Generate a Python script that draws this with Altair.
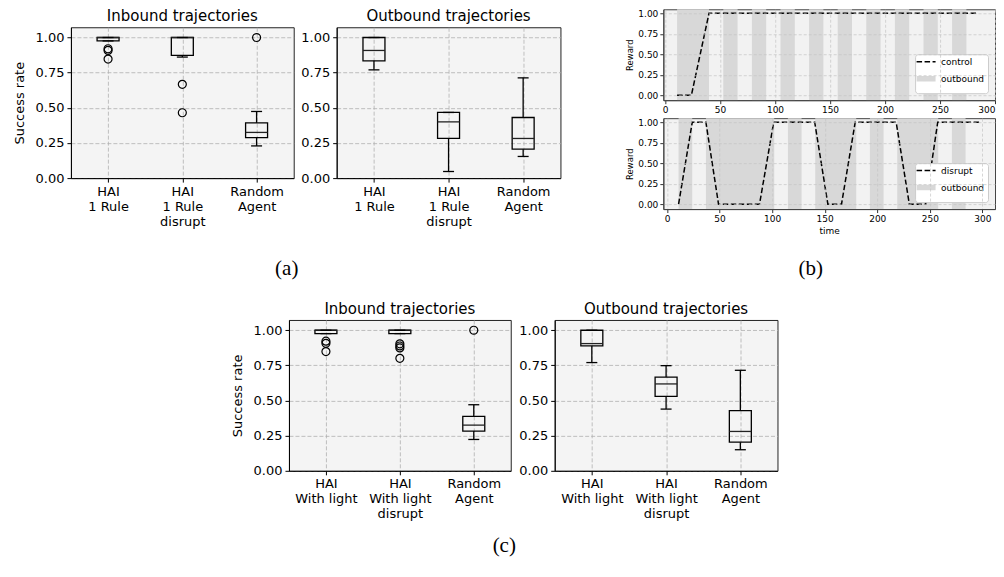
import altair as alt
import pandas as pd

FONT = "DejaVu Sans"
SERIF = "Liberation Serif"

# ---------------- box-plot statistics ----------------
cats_a = ["HAI|1 Rule", "HAI|1 Rule|disrupt", "Random|Agent"]
cats_c = ["HAI|With light", "HAI|With light|disrupt", "Random|Agent"]
panel_titles = ["Inbound trajectories", "Outbound trajectories"]

# (a) inbound
a_in_q1 = [0.976, 0.873, 0.288]
a_in_med = [1.0, 1.0, 0.325]
a_in_q3 = [1.0, 1.0, 0.393]
a_in_lo = [0.976, 0.861, 0.229]
a_in_hi = [1.0, 1.0, 0.474]
a_in_out_idx = [0, 0, 0, 1, 1, 2]
a_in_out_val = [0.920, 0.908, 0.847, 0.667, 0.465, 1.0]

# (a) outbound
a_out_q1 = [0.834, 0.282, 0.206]
a_out_med = [0.908, 0.400, 0.282]
a_out_q3 = [1.0, 0.467, 0.431]
a_out_lo = [0.770, 0.047, 0.154]
a_out_hi = [1.0, 0.467, 0.713]
a_out_out_idx = []
a_out_out_val = []

# (c) inbound
c_in_q1 = [0.976, 0.976, 0.283]
c_in_med = [1.0, 1.0, 0.325]
c_in_q3 = [1.0, 1.0, 0.387]
c_in_lo = [0.976, 0.976, 0.223]
c_in_hi = [1.0, 1.0, 0.470]
c_in_out_idx = [0, 0, 0, 1, 1, 1, 1, 2]
c_in_out_val = [0.922, 0.907, 0.848, 0.903, 0.888, 0.874, 0.800, 1.0]

# (c) outbound
c_out_q1 = [0.888, 0.530, 0.204]
c_out_med = [0.905, 0.618, 0.280]
c_out_q3 = [1.0, 0.667, 0.428]
c_out_lo = [0.770, 0.439, 0.150]
c_out_hi = [1.0, 0.748, 0.715]
c_out_out_idx = []
c_out_out_val = []

# ---------------- reward traces (b) ----------------
top_band_start = [11, 53, 79, 105, 131, 157, 183, 209, 235, 261]
top_band_end = [40, 66, 92, 118, 144, 170, 196, 222, 248, 274]
top_time = [11, 24, 40, 285]
top_reward = [0, 0, 1, 1]

bot_band_start = [11, 37, 115, 141, 193, 219, 271]
bot_band_end = [24, 102, 128, 180, 206, 258, 284]
bot_time = [11, 24, 37, 49, 88, 101.5, 140.5, 153, 166, 179, 218, 230.5, 246, 257.5, 298.5]
bot_reward = [0, 1, 1, 0, 0, 1, 1, 0, 0, 1, 1, 0, 0, 1, 1]

y_ticks = [0, 0.25, 0.5, 0.75, 1.0]
time_ticks = [0, 50, 100, 150, 200, 250, 300]


def title_chart(text, w):
    return alt.Chart(pd.DataFrame({"t": [text]})).mark_text(
        font=FONT, fontSize=15, color="black", baseline="middle", align="center"
    ).encode(
        x=alt.X("t:N", axis=None, scale=alt.Scale(type="point", padding=0.5)),
        text="t:N",
    ).properties(width=w, height=14, view=alt.ViewBackground(stroke="transparent", fill="transparent"))


def box_panel(cats, q1, med, q3, lo, hi, oidx, oval, title, ytitle, w, h):
    df = pd.DataFrame({"cat": cats, "q1": q1, "med": med, "q3": q3, "lo": lo, "hi": hi})
    dfo = pd.DataFrame({"cat": [cats[i] for i in oidx], "v": oval})
    xenc = alt.X(
        "cat:N",
        sort=cats,
        scale=alt.Scale(type="point", padding=0.5, domain=cats),
        axis=alt.Axis(
            title=None, labelExpr="split(datum.value, '|')", labelAngle=0,
            labelFontSize=13, labelFont=FONT, labelColor="black", labelLineHeight=15,
            labelPadding=3, tickSize=4, tickColor="black", domainColor="black",
            grid=True, gridDash=[4, 2], gridColor="#b0b0b0", gridWidth=0.8,
        ),
    )
    yscale = alt.Scale(domain=[0, 1.073], nice=False, zero=False)
    yaxis = alt.Axis(
        title=ytitle, values=y_ticks, format=".2f", labelFontSize=13, labelFont=FONT,
        labelColor="black", labelPadding=3, tickSize=4, tickColor="black",
        domainColor="black", titleFontSize=13, titleFont=FONT, titleFontWeight="normal",
        titleColor="black", titlePadding=9, grid=True, gridDash=[4, 2],
        gridColor="#b0b0b0", gridWidth=0.8,
    )

    def Y(f):
        return alt.Y(f, scale=yscale, axis=yaxis)

    base = alt.Chart(df)
    wl = base.mark_rule(color="black", strokeWidth=1.3).encode(x=xenc, y=Y("lo:Q"), y2="q1:Q")
    wh = base.mark_rule(color="black", strokeWidth=1.3).encode(x=xenc, y=Y("q3:Q"), y2="hi:Q")
    box = base.mark_bar(size=22, fillOpacity=0, stroke="black", strokeWidth=1.3).encode(
        x=xenc, y=Y("q1:Q"), y2="q3:Q")
    md = base.mark_tick(size=22, thickness=1.3, color="#222222", opacity=1).encode(x=xenc, y=Y("med:Q"))
    cl = base.mark_tick(size=11, thickness=1.3, color="black", opacity=1).encode(x=xenc, y=Y("lo:Q"))
    ch = base.mark_tick(size=11, thickness=1.3, color="black", opacity=1).encode(x=xenc, y=Y("hi:Q"))
    layers = [wl, wh, box, md, cl, ch]
    if len(dfo):
        pts = alt.Chart(dfo).mark_point(shape="circle", size=64, filled=False, color="black",
                                        strokeWidth=1.2, opacity=1).encode(x=xenc, y=Y("v:Q"))
        layers.append(pts)
    panel = alt.layer(*layers).properties(
        width=w, height=h,
        view=alt.ViewBackground(fill="#f4f4f4", stroke="#222222", strokeWidth=1),
    )
    return alt.vconcat(title_chart(title, w), panel, spacing=1)


def reward_panel(bs, be, t, r, name, xdom, xtitle, w, h):
    dfb = pd.DataFrame({"s": bs, "e": be})
    dfl = pd.DataFrame({"t": t, "r": r, "series": [name] * len(t)})
    xscale = alt.Scale(domain=xdom, nice=False, zero=False)
    xaxis = alt.Axis(
        title=xtitle, values=time_ticks, format="d", labelFontSize=9, labelFont=FONT,
        labelColor="black", labelPadding=2, tickSize=3.5, tickColor="#333333",
        domainColor="#444444", titleFontSize=9, titleFont=FONT, titleFontWeight="normal",
        titleColor="black", titlePadding=3, grid=True, gridDash=[3, 2],
        gridColor="#c4c4c4", gridWidth=0.7, zindex=1,
    )
    yscale = alt.Scale(domain=[-0.06, 1.05], nice=False, zero=False)
    yaxis = alt.Axis(
        title="Reward", values=y_ticks, format=".2f", labelFontSize=9, labelFont=FONT,
        labelColor="black", labelPadding=2, tickSize=3.5, tickColor="#333333",
        domainColor="#444444", titleFontSize=8.5, titleFont=FONT, titleFontWeight="normal",
        titleColor="black", titlePadding=3, grid=True, gridDash=[3, 2],
        gridColor="#c4c4c4", gridWidth=0.7, zindex=1,
    )
    dom = [name, "outbound"]
    leg = alt.Legend(
        title=None, orient="bottom-right", offset=7, fillColor="white",
        strokeColor="#cccccc", padding=3, cornerRadius=3, labelFontSize=9,
        labelFont=FONT, labelColor="black", symbolType="M-6,0H13", symbolSize=4,
        rowPadding=0, labelOffset=14,
    )
    bands = alt.Chart(dfb).mark_rect(color="#d8d8d8").encode(
        x=alt.X("s:Q", scale=xscale, axis=xaxis), x2="e:Q")
    line = alt.Chart(dfl).mark_line().encode(
        x=alt.X("t:Q", scale=xscale, axis=xaxis),
        y=alt.Y("r:Q", scale=yscale, axis=yaxis),
        color=alt.Color("series:N", scale=alt.Scale(domain=dom, range=["black", "#d8d8d8"]), legend=leg),
        strokeDash=alt.StrokeDash("series:N", scale=alt.Scale(domain=dom, range=[[5.5, 2.5], [1, 0]]), legend=leg),
        strokeWidth=alt.StrokeWidth("series:N", scale=alt.Scale(domain=dom, range=[1.5, 5.5]), legend=leg),
    )
    return alt.layer(bands, line).properties(
        width=w, height=h,
        view=alt.ViewBackground(fill="#f2f2f2", stroke="#444444", strokeWidth=1),
    )


def cap_title(txt, off):
    return alt.TitleParams(txt, orient="bottom", anchor="middle", font=SERIF, fontSize=21,
                           fontWeight="normal", color="black", offset=off)


RES = dict(color="independent", strokeDash="independent", strokeWidth="independent")

aL = box_panel(cats_a, a_in_q1, a_in_med, a_in_q3, a_in_lo, a_in_hi, a_in_out_idx, a_in_out_val,
               panel_titles[0], "Success rate", 223, 151)
aR = box_panel(cats_a, a_out_q1, a_out_med, a_out_q3, a_out_lo, a_out_hi, a_out_out_idx, a_out_out_val,
               panel_titles[1], None, 224, 151)
cL = box_panel(cats_c, c_in_q1, c_in_med, c_in_q3, c_in_lo, c_in_hi, c_in_out_idx, c_in_out_val,
               panel_titles[0], "Success rate", 222, 151)
cR = box_panel(cats_c, c_out_q1, c_out_med, c_out_q3, c_out_lo, c_out_hi, c_out_out_idx, c_out_out_val,
               panel_titles[1], None, 223, 151)

bT = reward_panel(top_band_start, top_band_end, top_time, top_reward, "control", [-1.5, 300], None, 332, 91)
bB = reward_panel(bot_band_start, bot_band_end, bot_time, bot_reward, "disrupt", [-3.5, 312], "time", 332, 91)

a_group = alt.hconcat(aL, aR, spacing=5).properties(title=cap_title("(a)", 29))
b_group = alt.vconcat(bT, bB, spacing=2).properties(title=cap_title("(b)", 22)).resolve_scale(**RES)
top = alt.hconcat(a_group, b_group, spacing=63).resolve_scale(**RES)
c_group = alt.hconcat(cL, cR, spacing=6).properties(title=cap_title("(c)", 14))

chart = alt.vconcat(top, c_group, spacing=22, center=True).properties(
    padding={"left": 4, "top": 0, "right": 0, "bottom": 4},
    background="white",
).resolve_scale(**RES).configure(font=FONT)

chart.save("out.html", embed_options={"renderer": "svg", "actions": False})
